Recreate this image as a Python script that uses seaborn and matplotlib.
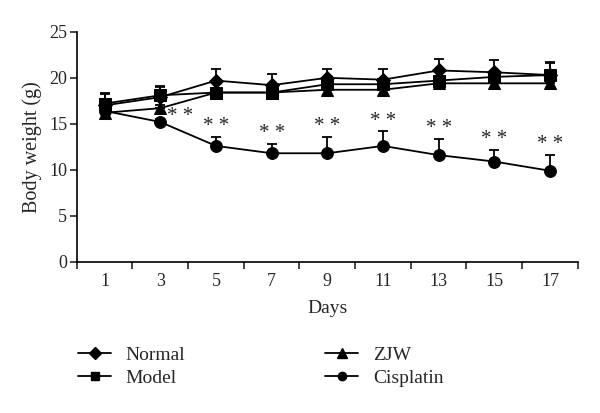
import numpy as np
import pandas as pd
import seaborn as sns
import matplotlib
matplotlib.use("Agg")
import matplotlib.pyplot as plt
from matplotlib.lines import Line2D

days = [1, 3, 5, 7, 9, 11, 13, 15, 17]
normal = [17.0, 17.9, 19.7, 19.2, 20.0, 19.8, 20.8, 20.6, 20.3]
normal_err = [1.3, 1.1, 1.3, 1.2, 1.0, 1.2, 1.2, 1.3, 1.4]
model = [17.2, 18.1, 18.4, 18.4, 19.3, 19.3, 19.7, 20.1, 20.3]
model_err = [1.0, 1.0, 0.3, 0.3, 0.4, 0.4, 0.4, 0.4, 1.3]
zjw = [16.2, 16.7, 18.4, 18.4, 18.7, 18.7, 19.4, 19.4, 19.4]
zjw_err = [0.3, 0.3, 0.3, 0.3, 0.3, 0.3, 0.3, 0.3, 0.3]
cisplatin = [16.4, 15.2, 12.6, 11.8, 11.8, 12.6, 11.6, 10.9, 9.9]
cis_err = [0.3, 0.3, 1.0, 1.0, 1.8, 1.6, 1.8, 1.3, 1.7]
series_names = ["Normal", "Model", "ZJW", "Cisplatin"]
star_label = "* *"

sns.set_theme(style="ticks")
plt.rcParams["font.family"] = ["Liberation Serif", "DejaVu Serif"]

values = {"Normal": normal, "Model": model, "ZJW": zjw, "Cisplatin": cisplatin}
errors = {"Normal": normal_err, "Model": model_err, "ZJW": zjw_err, "Cisplatin": cis_err}
markers = {"Normal": "D", "Model": "s", "ZJW": "^", "Cisplatin": "o"}
msizes = {"Normal": 7, "Model": 8, "ZJW": 9, "Cisplatin": 8.5}

rows = []
for name in series_names:
    for d, v in zip(days, values[name]):
        rows.append({"Day": d, "Weight": v, "Group": name})
df = pd.DataFrame(rows)

fig = plt.figure(figsize=(6.0, 4.13), dpi=100)
ax = fig.add_axes([0.128, 0.366, 0.835, 0.557])

for name in series_names:
    sub = df[df["Group"] == name]
    ax.errorbar(sub["Day"], sub["Weight"], yerr=[np.zeros(len(sub)), errors[name]],
                fmt="none", ecolor="black", elinewidth=1.3, capsize=3.5, capthick=1.3, zorder=2)
    sns.lineplot(data=sub, x="Day", y="Weight", ax=ax, color="black", linewidth=1.3,
                 marker=markers[name], markersize=msizes[name],
                 markeredgecolor="black", markerfacecolor="black", zorder=3, legend=False)

# significance stars for Cisplatin
for i, (d, v, e) in enumerate(zip(days, cisplatin, cis_err)):
    if i == 0:
        continue
    if i == 1:
        ax.text(d + 0.7, v + 0.6, star_label, ha="center", va="center", fontsize=15)
    else:
        ax.text(d, v + e + 1.1, star_label, ha="center", va="center", fontsize=15)

ax.set_xlim(0, 18)
ax.set_ylim(0, 25)
ax.set_xticks(np.arange(0, 19, 2))
ax.set_xticklabels([])
ax.set_xticks(days, minor=True)
ax.set_xticklabels([str(d) for d in days], minor=True)
ax.tick_params(axis="x", which="minor", length=0, pad=8, labelsize=13)
ax.tick_params(axis="x", which="major", length=5, width=1.2, direction="out")
ax.set_yticks(np.arange(0, 26, 5))
ax.tick_params(axis="y", length=5, width=1.2, direction="out", labelsize=13, pad=2)
for s in ["top", "right"]:
    ax.spines[s].set_visible(False)
for s in ["left", "bottom"]:
    ax.spines[s].set_linewidth(1.2)
    ax.spines[s].set_color("black")
ax.set_xlabel("Days", fontsize=14, labelpad=7)
ax.set_ylabel("Body weight (g)", fontsize=14.5, labelpad=5)

handles = [Line2D([0], [0], color="black", linewidth=1.3, marker=markers[n],
                  markersize=6 if n != "ZJW" else 7, markerfacecolor="black",
                  markeredgecolor="black") for n in series_names]
fig.legend(handles, series_names, loc="upper left", bbox_to_anchor=(0.117, 0.18),
           ncol=2, frameon=False, fontsize=14, columnspacing=7.2, handlelength=1.7,
           handletextpad=0.75, labelspacing=0.25, borderaxespad=0)

fig.savefig("out.png", dpi=100)
